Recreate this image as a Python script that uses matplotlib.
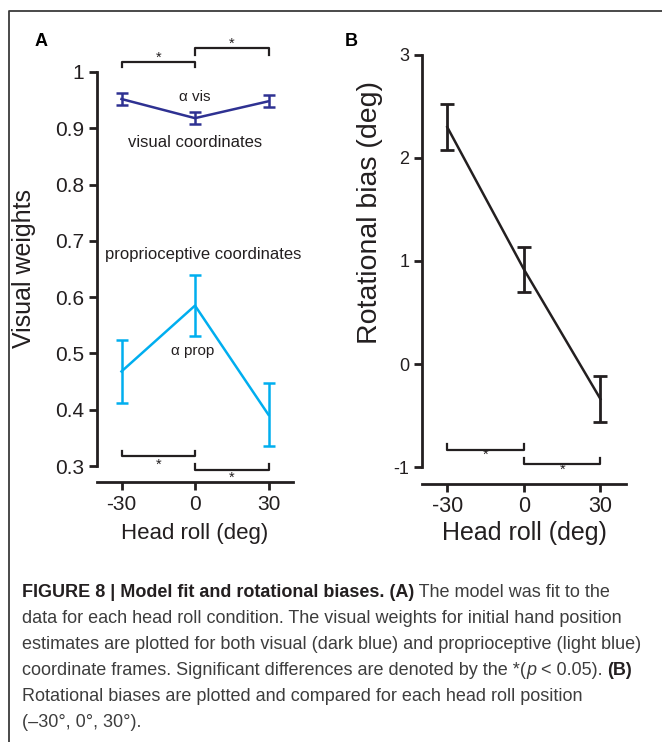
import matplotlib
matplotlib.use("Agg")
import matplotlib.pyplot as plt

# data
head_roll = [-30, 0, 30]
vis_weight = [0.952, 0.918, 0.948]
vis_err = [0.011, 0.011, 0.011]
prop_weight = [0.468, 0.585, 0.391]
prop_err = [0.056, 0.054, 0.056]
rot_bias = [2.30, 0.92, -0.34]
rot_err = [0.22, 0.22, 0.225]

x_ticks = [-30, 0, 30]
a_yticks = [0.3, 0.4, 0.5, 0.6, 0.7, 0.8, 0.9, 1.0]
a_ylabels = ["0.3", "0.4", "0.5", "0.6", "0.7", "0.8", "0.9", "1"]
b_yticks = [-1, 0, 1, 2, 3]

caption_lines = [
    [("FIGURE 8 | Model fit and rotational biases. (A)", "bold"), (" The model was fit to the", "normal")],
    [("data for each head roll condition. The visual weights for initial hand position", "normal")],
    [("estimates are plotted for both visual (dark blue) and proprioceptive (light blue)", "normal")],
    [("coordinate frames. Significant differences are denoted by the *(", "normal"), ("p", "italic"),
     (" < 0.05). ", "normal"), ("(B)", "bold")],
    [("Rotational biases are plotted and compared for each head roll position", "normal")],
    [("(\u201330\u00b0, 0\u00b0, 30\u00b0).", "normal")],
]

W, H = 662, 742
INK = "#231f20"
DARK_BLUE = "#2e3192"
LIGHT_BLUE = "#00aeef"
plt.rcParams["font.family"] = ["Liberation Sans", "DejaVu Sans"]

fig = plt.figure(figsize=(W / 100, H / 100), dpi=100)

# overlay in pixel coordinates for frame + caption
ov = fig.add_axes([0, 0, 1, 1])
ov.set_xlim(0, W)
ov.set_ylim(H, 0)
ov.axis("off")
ov.plot([9, 9, W], [H, 11, 11], color="#3a3a3a", lw=1.3, clip_on=False)


def box(l, t, r, b):
    return [l / W, 1 - b / H, (r - l) / W, (b - t) / H]


def style_axes(ax, ybounds, ysize, xsize):
    for s in ["top", "right"]:
        ax.spines[s].set_visible(False)
    for s in ["left", "bottom"]:
        ax.spines[s].set_linewidth(2)
        ax.spines[s].set_color(INK)
    ax.spines["left"].set_bounds(*ybounds)
    ax.spines["bottom"].set_bounds(-40, 40)
    ax.set_xlim(-40, 40)
    ax.set_xticks(x_ticks)
    ax.set_xticklabels([str(v) for v in x_ticks])
    ax.tick_params(axis="both", direction="out", length=6, width=2, color=INK, labelcolor=INK, pad=3)
    ax.tick_params(axis="y", labelsize=ysize)
    ax.tick_params(axis="x", labelsize=xsize)
    ax.patch.set_visible(False)


def bracket(ax, x0, x1, y_line, y_tip, y_star):
    ax.plot([x0, x0, x1, x1], [y_tip, y_line, y_line, y_tip], color=INK, lw=1.6, clip_on=False)
    ax.text((x0 + x1) / 2, y_star, "*", ha="center", va="center", fontsize=10.5, color=INK)


# ---- panel A
ax1 = fig.add_axes(box(97, 38, 293, 482))
ax1.set_ylim(0.2716, 1.0604)
style_axes(ax1, (0.3, 1.0), 15, 15)
ax1.set_yticks(a_yticks)
ax1.set_yticklabels(a_ylabels)

ax1.errorbar(head_roll, vis_weight, yerr=vis_err, color=DARK_BLUE, lw=1.8,
             elinewidth=1.8, capsize=4.5, capthick=1.8)
ax1.errorbar(head_roll, prop_weight, yerr=prop_err, color=LIGHT_BLUE, lw=1.8,
             elinewidth=1.8, capsize=4.5, capthick=1.8)

ax1.text(0, 0.956, "\u03b1 vis", ha="center", va="center", fontsize=11, color=INK)
ax1.text(0, 0.874, "visual coordinates", ha="center", va="center", fontsize=12, color=INK)
ax1.text(3.2, 0.675, "proprioceptive coordinates", ha="center", va="center", fontsize=12, color=INK)
ax1.text(-1, 0.505, "\u03b1 prop", ha="center", va="center", fontsize=11, color=INK)

bracket(ax1, -30, 0, 1.017, 1.008, 1.026)
bracket(ax1, 0, 30, 1.042, 1.031, 1.050)
bracket(ax1, -30, 0, 0.317, 0.327, 0.303)
bracket(ax1, 0, 30, 0.293, 0.303, 0.279)

# ---- panel B
ax2 = fig.add_axes(box(421.7, 45, 626, 484))
ax2.set_ylim(-1.165, 3.097)
style_axes(ax2, (-1, 3), 13, 15.5)
ax2.set_yticks(b_yticks)
ax2.set_yticklabels([str(v) for v in b_yticks])

ax2.errorbar(head_roll, rot_bias, yerr=rot_err, color=INK, lw=1.8,
             elinewidth=2, capsize=5, capthick=2)

bracket(ax2, -30, 0, -0.838, -0.78, -0.880)
bracket(ax2, 0, 30, -0.97, -0.915, -1.025)

# labels
fig.text(24 / W, 1 - 268 / H, "Visual weights", rotation=90, ha="center", va="center", fontsize=18, color=INK)
fig.text(370 / W, 1 - 212 / H, "Rotational bias (deg)", rotation=90, ha="center", va="center", fontsize=20.5, color=INK)
fig.text(195 / W, 1 - 533 / H, "Head roll (deg)", ha="center", va="center", fontsize=16, color=INK)
fig.text(524 / W, 1 - 533 / H, "Head roll (deg)", ha="center", va="center", fontsize=18, color=INK)
fig.text(41 / W, 1 - 41 / H, "A", ha="center", va="center", fontsize=13, fontweight="bold", color="black")
fig.text(351 / W, 1 - 41 / H, "B", ha="center", va="center", fontsize=13, fontweight="bold", color="black")

# caption, pieces chained left to right
cap_font = ["Liberation Sans Narrow", "Liberation Sans", "DejaVu Sans"]
baseline = 597
for line in caption_lines:
    prev = None
    for piece, kind in line:
        kw = dict(fontsize=13, family=cap_font,
                  color=INK if kind == "bold" else "#3d3d3d",
                  fontweight="bold" if kind == "bold" else "normal",
                  fontstyle="italic" if kind == "italic" else "normal")
        if prev is None:
            prev = ov.text(22, baseline, piece, ha="left", va="baseline", **kw)
        else:
            prev = ov.annotate(piece, xy=(1, 0), xycoords=prev, ha="left", va="bottom", **kw)
    baseline += 26

fig.savefig("out.png", dpi=100)
